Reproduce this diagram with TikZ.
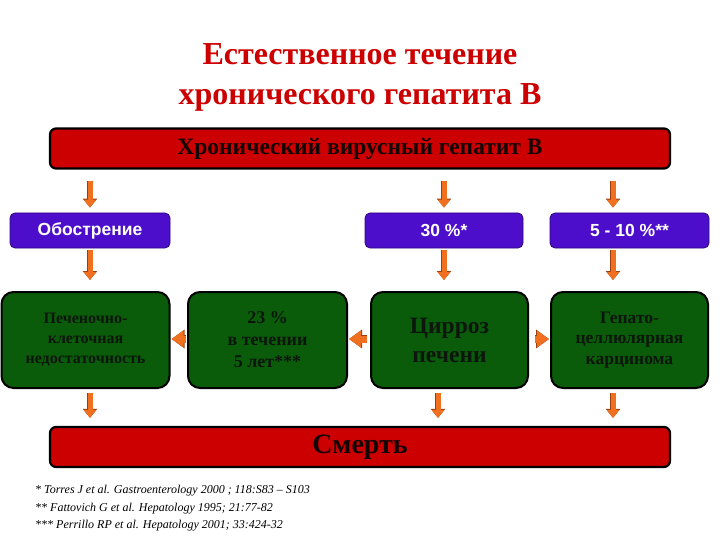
\documentclass[tikz,border=0pt]{standalone}
\usepackage{fontspec}
\setmainfont{Liberation Serif}
\newfontfamily\arialfont{Liberation Sans}
\usetikzlibrary{arrows.meta}
\definecolor{barred}{HTML}{CC0000}
\definecolor{titlered}{HTML}{CC0000}
\definecolor{purp}{HTML}{4C0ECA}
\definecolor{gr}{HTML}{0A5C0A}
\definecolor{arrorange}{HTML}{F07020}
\definecolor{arrdark}{HTML}{9A4010}
\definecolor{darktext}{HTML}{140404}
\definecolor{greentext}{HTML}{0C160C}
\tikzset{
  redbar/.style={draw=black, line width=2.2pt, fill=barred, rounded corners=6pt,
    minimum width=620pt, minimum height=40pt, inner sep=0pt,
    font=\bfseries, text=darktext},
  purpbox/.style={draw=purp!60!black, line width=0.8pt, fill=purp, rounded corners=5pt,
    minimum height=35pt, inner sep=0pt, text=white,
    font=\arialfont\bfseries\fontsize{17.5}{20}\selectfont},
  greenbox/.style={draw=black, line width=2pt, fill=gr, rounded corners=12pt,
    minimum height=96pt, inner sep=0pt, text=greentext, align=center},
  varrow/.style={line width=5pt, draw=arrorange, -{Triangle[width=12pt,length=8pt,fill=arrorange]},
    preaction={draw=arrdark, line width=6.4pt, -{Triangle[width=14pt,length=9pt]}}},
  harrow/.style={line width=7pt, draw=arrorange, -{Triangle[width=16pt,length=12pt,fill=arrorange]},
    preaction={draw=arrdark, line width=8.4pt, -{Triangle[width=18pt,length=13pt]}}}
}
\begin{document}
\begin{tikzpicture}[x=1pt,y=-1pt]
\useasboundingbox (0,0) rectangle (720,540);
% title
\node[text=titlered, font=\bfseries\fontsize{32}{40}\selectfont, align=center] (title) at (360,77)
  {Естественное течение\\хронического гепатита В};
% bars
\node[redbar, font=\bfseries\fontsize{23.5}{26}\selectfont] (top) at (360,148.5) {Хронический вирусный гепатит В};
\node[redbar, font=\bfseries\fontsize{28}{30}\selectfont] (bot) at (360,447) {\raisebox{-3pt}{Смерть}};
% purple
\node[purpbox, minimum width=160pt] (ob) at (90,230.5) {Обострение};
\node[purpbox, minimum width=158pt] (p30) at (444,230.5) {30 \%*};
\node[purpbox, minimum width=159pt] (p510) at (629.5,230.5) {5 - 10 \%**};
% green
\node[greenbox, minimum width=168pt, font=\bfseries\fontsize{16}{20}\selectfont] (g1) at (85.5,340)
  {Печеночно-\\клеточная\\недостаточность};
\node[greenbox, minimum width=159pt, font=\bfseries\fontsize{18}{22}\selectfont] (g2) at (267.5,340)
  {23 \%\\в течении\\5 лет***};
\node[greenbox, minimum width=157pt, font=\bfseries\fontsize{23.5}{29}\selectfont] (g3) at (449.5,340)
  {Цирроз\\печени};
\node[greenbox, minimum width=157pt, font=\bfseries\fontsize{17.5}{20.5}\selectfont] (g4) at (629.5,340)
  {Гепато-\\целлюлярная\\карцинома};
% arrow columns
\coordinate (c1) at (90,0);
\coordinate (c2) at (444,0);
\coordinate (c3) at (613,0);
\coordinate (c4) at (438,0);
% vertical arrows
\draw[varrow, shorten <=11pt, shorten >=5pt] (top.south -| c1) -- (ob.north -| c1);
\draw[varrow, shorten <=11pt, shorten >=5pt] (top.south -| c2) -- (p30.north -| c2);
\draw[varrow, shorten <=11pt, shorten >=5pt] (top.south -| c3) -- (p510.north -| c3);
\draw[varrow, shorten <=2pt, shorten >=11pt] (ob.south -| c1) -- (g1.north -| c1);
\draw[varrow, shorten <=2pt, shorten >=11pt] (p30.south -| c2) -- (g3.north -| c2);
\draw[varrow, shorten <=2pt, shorten >=11pt] (p510.south -| c3) -- (g4.north -| c3);
\draw[varrow, shorten <=4pt, shorten >=8pt] (g1.south -| c1) -- (bot.north -| c1);
\draw[varrow, shorten <=4pt, shorten >=8pt] (g3.south -| c4) -- (bot.north -| c4);
\draw[varrow, shorten <=4pt, shorten >=8pt] (g4.south -| c3) -- (bot.north -| c3);
% horizontal arrows
\draw[harrow, shorten <=1pt, shorten >=1pt] ([yshift=1pt]g2.west) -- ([yshift=1pt]g1.east);
\draw[harrow, shorten <=3pt, shorten >=1pt] ([yshift=1pt]g3.west) -- ([yshift=1pt]g2.east);
\draw[harrow, shorten <=6pt, shorten >=1pt] ([yshift=1pt]g3.east) -- ([yshift=1pt]g4.west);
% footnotes
\node[anchor=north west, align=left, inner sep=0pt, font=\itshape\fontsize{12}{17.5}\selectfont] (notes) at (35,485)
  {* Torres J et al. Gastroenterology 2000 ; 118:S83 – S103\\
   ** Fattovich G et al. Hepatology 1995; 21:77-82\\
   *** Perrillo RP et al. Hepatology 2001; 33:424-32};
\end{tikzpicture}
\end{document}
